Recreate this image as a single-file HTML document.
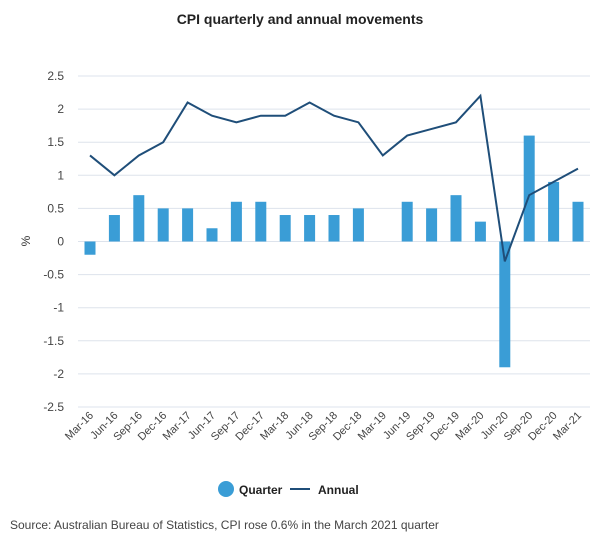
<!DOCTYPE html>
<html><head><meta charset="utf-8"><style>
body{margin:0;background:#fff;font-family:"Liberation Sans",sans-serif;}
svg text{font-family:"Liberation Sans",sans-serif;}
</style></head><body>
<svg id="c" width="600" height="550">
<text x="300" y="24" text-anchor="middle" font-size="14" font-weight="bold" fill="#222">CPI quarterly and annual movements</text>
<text x="30" y="241" text-anchor="middle" font-size="12" fill="#333" transform="rotate(-90 30 241)">%</text>
<g id="grid"></g><g id="bars"></g><g id="line"></g><g id="xl"></g>
<circle cx="226" cy="489" r="8" fill="#3a9dd6"/>
<text x="239" y="494" font-size="12" font-weight="bold" fill="#222">Quarter</text>
<line x1="290" y1="489" x2="310" y2="489" stroke="#1f4e79" stroke-width="2"/>
<text x="318" y="494" font-size="12" font-weight="bold" fill="#222">Annual</text>
<text x="10" y="529" font-size="12" fill="#444">Source: Australian Bureau of Statistics, CPI rose 0.6% in the March 2021 quarter</text>
</svg>
<script>
const categories=["Mar-16","Jun-16","Sep-16","Dec-16","Mar-17","Jun-17","Sep-17","Dec-17","Mar-18","Jun-18","Sep-18","Dec-18","Mar-19","Jun-19","Sep-19","Dec-19","Mar-20","Jun-20","Sep-20","Dec-20","Mar-21"];
const quarterly=[-0.2,0.4,0.7,0.5,0.5,0.2,0.6,0.6,0.4,0.4,0.4,0.5,0.0,0.6,0.5,0.7,0.3,-1.9,1.6,0.9,0.6];
const annual=[1.3,1.0,1.3,1.5,2.1,1.9,1.8,1.9,1.9,2.1,1.9,1.8,1.3,1.6,1.7,1.8,2.2,-0.3,0.7,0.9,1.1];
const yTicks=[2.5,2,1.5,1,0.5,0,-0.5,-1,-1.5,-2,-2.5];
const NS="http://www.w3.org/2000/svg";
const y0=241.5,ppu=66.2,x0=90,step=24.4,left=78,right=590;
const Y=v=>y0-v*ppu, X=i=>x0+i*step;
function mk(t,a,p){const e=document.createElementNS(NS,t);for(const k in a)e.setAttribute(k,a[k]);document.getElementById(p).appendChild(e);return e;}
yTicks.forEach(v=>{
 const l=mk('line',{x1:left,x2:right,y1:Y(v),y2:Y(v),stroke:'#dde3ec','stroke-width':1},'grid');
 
 
 const t=mk('text',{x:64,y:Y(v)+4,'text-anchor':'end','font-size':12,fill:'#444'},'grid');t.textContent=v;
 
 
});
quarterly.forEach((v,i)=>{
 const r=mk('rect',{x:X(i)-5.5,width:11,y:Math.min(Y(v),Y(0)),height:Math.abs(Y(v)-Y(0)),fill:'#3a9dd6'},'bars');
 
 
});
const p=mk('polyline',{points:annual.map((v,i)=>X(i)+','+Y(v)).join(' '),fill:'none',stroke:'#1f4e79','stroke-width':2},'line');


categories.forEach((c,i)=>{
 const x=X(i)+4,y=416;
 const t=mk('text',{x:x,y:y,'text-anchor':'end','font-size':11,fill:'#444',transform:`rotate(-45 ${x} ${y})`},'xl');t.textContent=c;
 
 
});
</script>
</body></html>
